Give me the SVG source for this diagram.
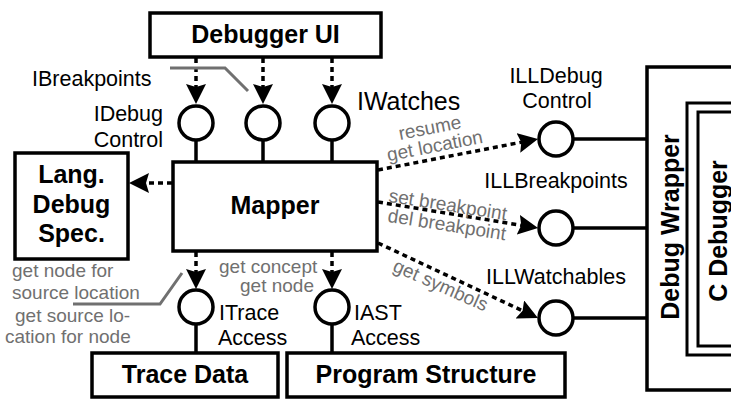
<svg xmlns="http://www.w3.org/2000/svg" width="731" height="399" viewBox="0 0 731 399">
  <style>
    .box { fill: #fff; stroke: #000; stroke-width: 3.5; }
    .dbl { fill: none; stroke: #000; stroke-width: 3; }
    .iface { fill: #fff; stroke: #000; stroke-width: 3.5; }
    .solid { stroke: #000; stroke-width: 3.5; fill: none; }
    .dash { stroke: #000; stroke-width: 3.5; fill: none; stroke-dasharray: 5 4; marker-end: url(#head); }
    .lead { stroke: #707070; stroke-width: 3; fill: none; }
    .title { font-family: "Liberation Sans", Arial, sans-serif; font-weight: bold; font-size: 25px; fill: #000; }
    .label { font-family: "Liberation Sans", Arial, sans-serif; font-size: 21.5px; fill: #000; }
    .note { font-family: "Liberation Sans", Arial, sans-serif; font-size: 19px; fill: #707070; }
  </style>
  <defs>
    <marker id="head" viewBox="0 0 20 20" refX="8" refY="10" markerWidth="20" markerHeight="20" markerUnits="userSpaceOnUse" orient="auto">
      <path d="M0,0 L20,10 L0,20 L3,10 z" fill="#000"/>
    </marker>
  </defs>

  <rect width="731" height="399" fill="#fff"/>

  <!-- connectors -->
  <g id="connectors">
    <!-- Debugger UI to provided interfaces -->
    <line class="dash" x1="196" y1="58" x2="196" y2="92"/>
    <line class="dash" x1="263" y1="58" x2="263" y2="92"/>
    <line class="dash" x1="332" y1="58" x2="332" y2="92"/>
    <!-- interfaces to Mapper -->
    <line class="solid" x1="196" y1="140" x2="196" y2="162"/>
    <line class="solid" x1="263" y1="140" x2="263" y2="162"/>
    <line class="solid" x1="332" y1="140" x2="332" y2="162"/>
    <!-- Mapper to language spec -->
    <line class="dash" x1="172" y1="183" x2="141" y2="183"/>
    <!-- Mapper to required data interfaces -->
    <line class="dash" x1="196" y1="252" x2="196" y2="277"/>
    <line class="dash" x1="332" y1="252" x2="332" y2="277"/>
    <line class="solid" x1="196" y1="324" x2="196" y2="353"/>
    <line class="solid" x1="332" y1="324" x2="332" y2="353"/>
    <!-- Mapper to low level interfaces -->
    <line class="dash" x1="378" y1="170" x2="526.2" y2="141.3"/>
    <line class="dash" x1="378" y1="202" x2="526.2" y2="226.1"/>
    <line class="dash" x1="378" y1="243" x2="527.1" y2="312.9"/>
    <!-- low level interfaces to wrapper -->
    <line class="solid" x1="573" y1="139" x2="647" y2="139"/>
    <line class="solid" x1="573" y1="228" x2="647" y2="228"/>
    <line class="solid" x1="573" y1="318" x2="647" y2="318"/>
    <!-- label leaders -->
    <polyline class="lead" points="170,68 225,68 248,91"/>
    <polyline class="lead" points="73,304 160,304 182,273"/>
  </g>

  <g id="debugger-ui">
    <rect class="box" x="150" y="13" width="231" height="44"/>
    <text class="title" x="265.5" y="43" text-anchor="middle">Debugger UI</text>
  </g>

  <g id="ibreakpoints-label">
    <text class="label" x="32" y="86">IBreakpoints</text>
  </g>

  <g id="idebugcontrol">
    <circle class="iface" cx="196" cy="123" r="17"/>
    <text class="label" x="163" y="121" text-anchor="end">IDebug</text>
    <text class="label" x="163" y="147" text-anchor="end">Control</text>
  </g>

  <g id="ibreakpoints">
    <circle class="iface" cx="263" cy="123" r="17"/>
  </g>

  <g id="iwatches">
    <circle class="iface" cx="332" cy="123" r="17"/>
    <text class="title" style="font-weight:normal" x="357" y="110">IWatches</text>
  </g>

  <g id="mapper">
    <rect class="box" x="173" y="162" width="204" height="89"/>
    <text class="title" x="275" y="214" text-anchor="middle">Mapper</text>
  </g>

  <g id="lang-debug-spec">
    <rect class="box" x="15" y="153" width="113" height="106"/>
    <text class="title" x="71.5" y="183" text-anchor="middle">Lang.</text>
    <text class="title" x="71.5" y="213" text-anchor="middle">Debug</text>
    <text class="title" x="71.5" y="242" text-anchor="middle">Spec.</text>
  </g>

  <g id="lang-notes">
    <text class="note" x="12" y="277">get node for</text>
    <text class="note" x="12" y="299">source location</text>
    <text class="note" x="15" y="322">get source lo-</text>
    <text class="note" x="5" y="343">cation for node</text>
  </g>

  <g id="itraceaccess">
    <circle class="iface" cx="196" cy="307" r="17"/>
    <text class="label" x="219" y="320">ITrace</text>
    <text class="label" x="218" y="345">Access</text>
  </g>

  <g id="iastaccess">
    <circle class="iface" cx="332" cy="307" r="17"/>
    <text class="label" x="354" y="320">IAST</text>
    <text class="label" x="351" y="345">Access</text>
  </g>

  <g id="ast-notes">
    <text class="note" x="219" y="273">get concept</text>
    <text class="note" x="240" y="292">get node</text>
  </g>

  <g id="trace-data">
    <rect class="box" x="92" y="353" width="186" height="44"/>
    <text class="title" x="185" y="383" text-anchor="middle">Trace Data</text>
  </g>

  <g id="program-structure">
    <rect class="box" x="287" y="353" width="278" height="44"/>
    <text class="title" x="426" y="383" text-anchor="middle">Program Structure</text>
  </g>

  <g id="low-level-notes">
    <text class="note" x="431" y="134" text-anchor="middle" transform="rotate(-11 431 134)">resume</text>
    <text class="note" x="436" y="152" text-anchor="middle" transform="rotate(-11 436 152)">get location</text>
    <text class="note" x="447" y="211" text-anchor="middle" transform="rotate(9 447 211)">set breakpoint</text>
    <text class="note" x="446" y="231" text-anchor="middle" transform="rotate(9 446 231)">del breakpoint</text>
    <text class="note" x="438" y="291" text-anchor="middle" transform="rotate(24 438 291)">get symbols</text>
  </g>

  <g id="illdebugcontrol">
    <circle class="iface" cx="556" cy="139" r="17"/>
    <text class="label" x="556" y="83" text-anchor="middle">ILLDebug</text>
    <text class="label" x="557" y="108" text-anchor="middle">Control</text>
  </g>

  <g id="illbreakpoints">
    <circle class="iface" cx="556" cy="228" r="17"/>
    <text class="label" x="556" y="188" text-anchor="middle">ILLBreakpoints</text>
  </g>

  <g id="illwatchables">
    <circle class="iface" cx="556" cy="318" r="17"/>
    <text class="label" x="556" y="284" text-anchor="middle">ILLWatchables</text>
  </g>

  <g id="debug-wrapper">
    <rect class="box" x="647" y="67" width="120" height="323"/>
    <text class="title" transform="translate(679 227) rotate(-90)" text-anchor="middle">Debug Wrapper</text>
  </g>

  <g id="c-debugger">
    <rect class="dbl" x="687" y="103" width="100" height="252"/>
    <rect class="dbl" x="698" y="112" width="100" height="234"/>
    <text class="title" transform="translate(727 231) rotate(-90)" text-anchor="middle">C Debugger</text>
  </g>
</svg>
